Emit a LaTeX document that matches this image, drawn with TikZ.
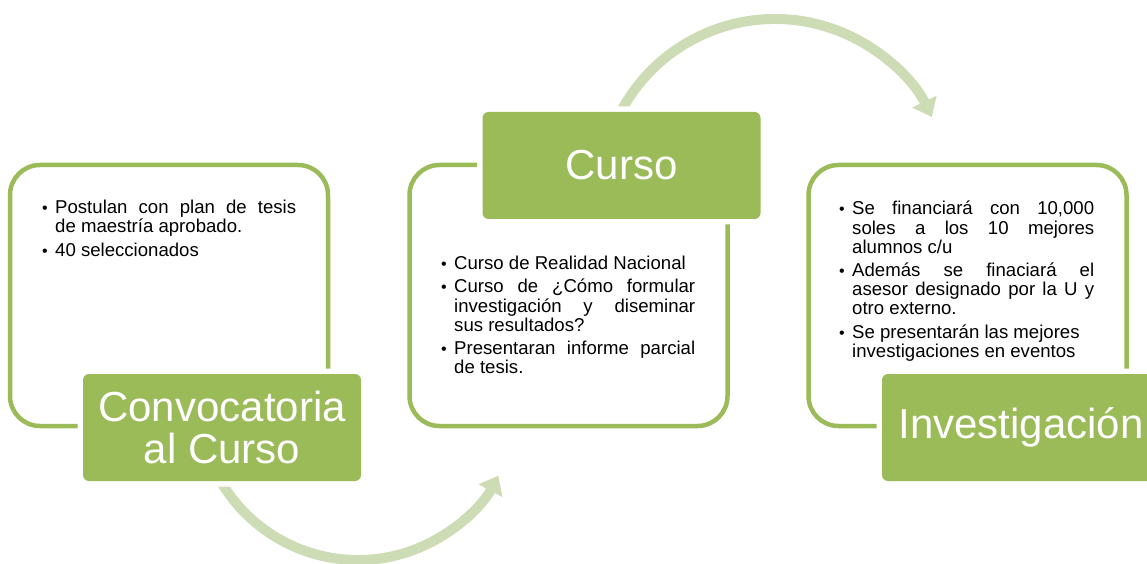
\documentclass[tikz,border=0pt]{standalone}
\usepackage{fontspec}
\setmainfont{Liberation Sans}
\usetikzlibrary{arrows.meta}
\definecolor{accgreen}{HTML}{9BBB59}
\definecolor{arrowgreen}{HTML}{CDDCB5}
\newcommand\bsetup{\parskip=4pt\hyphenpenalty=10000\exhyphenpenalty=10000\tolerance=9999}
\newcommand\bitem[1]{\hangindent=13pt\hangafter=1\noindent\makebox[13pt][l]{\fontsize{16}{16}\selectfont\textbullet}#1\par}
\begin{document}
\begin{tikzpicture}[x=1pt,y=1pt,
		framebox/.style={draw=accgreen,line width=4.5pt,rounded corners=30pt,minimum width=318pt,minimum height=261pt,inner sep=0pt},
		titlebox/.style={fill=accgreen,rounded corners=6pt,minimum width=278pt,minimum height=107pt,inner sep=0pt,text=white,align=center,font=\fontsize{42}{42}\selectfont,preaction={draw=white,line width=11pt}},
		bullets/.style={anchor=north west,inner sep=0pt,text width=254pt,align=justify,font=\fontsize{18.6}{19.2}\selectfont},
		cyclearrow/.style={draw=arrowgreen,line width=10pt,-{Triangle[length=17pt,width=26pt]}}]
		\useasboundingbox (0,0) rectangle (1147,563);
		\clip (0,0) rectangle (1147,563);
		%\draw [help lines] (0,0) grid (1147,563);
		% arrows
			\coordinate (lowstart) at ({358+159*cos(205)},{162+159*sin(205)});
			\coordinate (highstart) at ({775+174.5*cos(156)},{369.5+174.5*sin(156)});
			\draw [cyclearrow] (lowstart) arc [start angle=205,end angle=332,radius=159];
			\draw [cyclearrow] (highstart) arc [start angle=156,end angle=26,radius=174.5];
		% frames
			\node [framebox] (convframe) at (169,267.5) {};
			\node [framebox] (cursoframe) at (568.5,267.5) {};
			\node [framebox] (invframe) at (967.5,267.5) {};
		% titles
			\node [titlebox] (convtitle) at (222,135.5) {Convocatoria\\al Curso};
			\node [titlebox] (cursotitle) at (621.5,397.5) {Curso};
			\node [titlebox] (invtitle) at (1021,135.5) {Investigación};
		% bullet texts
			\node [bullets] (convtext) at (42,363) {\bsetup\bitem{Postulan con plan de tesis \linebreak de maestría aprobado.}\bitem{40 seleccionados}};
			\node [bullets] (cursotext) at (441,307) {\bsetup\bitem{Curso de Realidad Nacional}\bitem{Curso de ¿Cómo formular \linebreak investigación y diseminar \linebreak sus resultados?}\bitem{Presentaran informe parcial \linebreak de tesis.}};
			\node [bullets,text width=255pt] (invtext) at (839,362) {\bsetup\bitem{Se financiará con 10,000 \linebreak soles a los 10 mejores \linebreak alumnos c/u}\bitem{Además se finaciará el \linebreak asesor designado por la U y \linebreak otro externo.}\bitem{Se presentarán las mejores\newline investigaciones en eventos}};
\end{tikzpicture}
\end{document}
